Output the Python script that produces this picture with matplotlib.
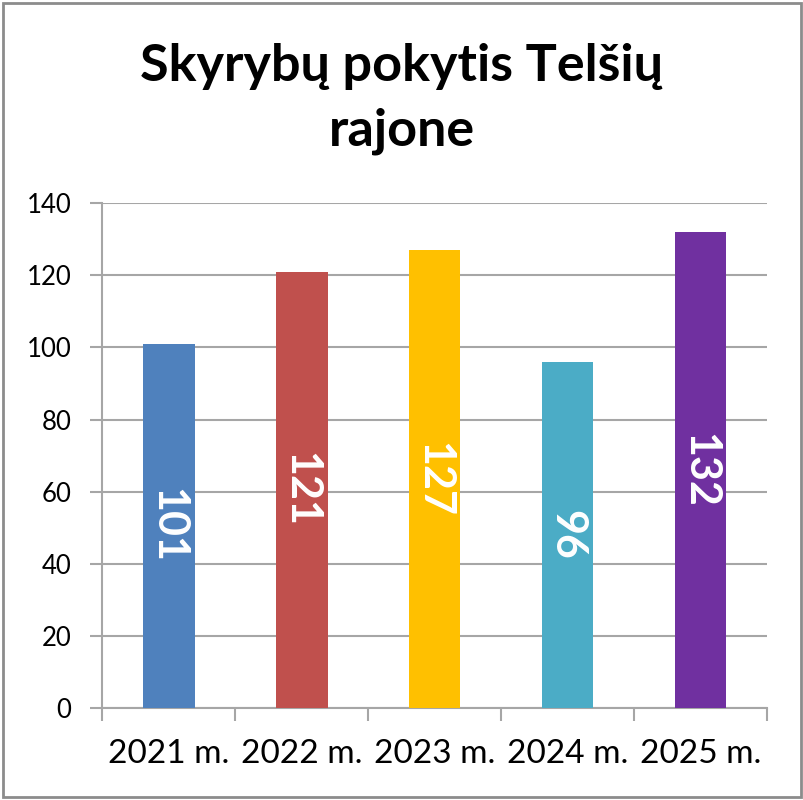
import matplotlib
matplotlib.use("Agg")
import matplotlib.pyplot as plt
import numpy as np

plt.rcParams['font.family'] = ['Lato', 'DejaVu Sans']

years = ["2021 m.", "2022 m.", "2023 m.", "2024 m.", "2025 m."]
divorces = [101, 121, 127, 96, 132]
colors = ["#4F81BD", "#C0504D", "#FFC000", "#4BACC6", "#7030A0"]
title = "Skyrybų pokytis Telšių\nrajone"

fig = plt.figure(figsize=(8.04, 8.0), dpi=100)
ax = fig.add_axes([0.127, 0.115, 0.827, 0.631])

x = np.arange(len(years))
bars = ax.bar(x, divorces, width=0.39, color=colors, zorder=3)

for xi, v in zip(x, divorces):
    ax.text(xi, v / 2, str(v), rotation=270, ha="center", va="center",
            color="white", fontsize=31, fontweight="bold", zorder=4)

ax.set_xlim(-0.5, len(years) - 0.5)
ax.set_ylim(0, 140)
ax.set_yticks(range(0, 141, 20))
ax.yaxis.grid(True, color="#A6A6A6", linewidth=1.5, zorder=0)

# category labels between boundary ticks
ax.set_xticks(x)
ax.set_xticklabels(years, fontsize=24)
ax.tick_params(axis="x", length=0, pad=22)
ax.set_xticks(np.arange(-0.5, len(years)), minor=True)
ax.tick_params(axis="x", which="minor", length=9, width=1.5, color="#A6A6A6")
ax.tick_params(axis="y", labelsize=18.5, length=9, width=1.5, color="#A6A6A6", pad=13)

for side in ["top", "right"]:
    ax.spines[side].set_visible(False)
for side in ["left", "bottom"]:
    ax.spines[side].set_color("#A6A6A6")
    ax.spines[side].set_linewidth(1.5)

fig.text(0.5, 0.876, title, ha="center", va="center", fontsize=37.5,
         fontweight="bold", linespacing=1.45)

# outer frame
fig.patches.append(plt.Rectangle((0.004, 0.004), 0.992, 0.992, transform=fig.transFigure,
                                 fill=False, edgecolor="#8C8C8C", linewidth=2))

fig.savefig("out.png", dpi=100)
